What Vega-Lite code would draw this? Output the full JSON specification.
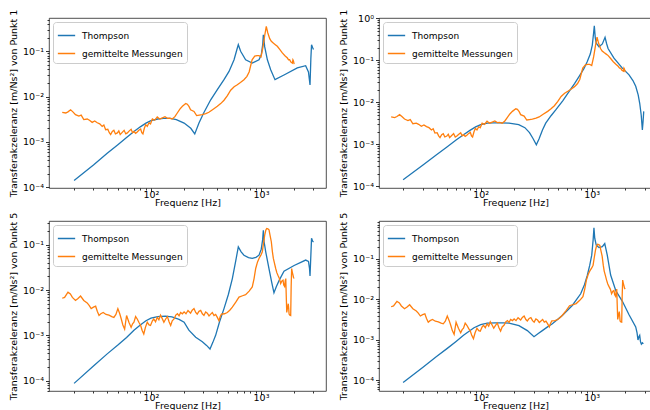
{
  "$schema": "https://vega.github.io/schema/vega-lite/v6.json",
  "padding": {"left": 8, "top": 8, "right": 0, "bottom": 0},
  "bounds": "flush",
  "spacing": {"row": 33, "column": 53},
  "columns": 2,
  "resolve": {"scale": {"x": "independent", "y": "independent", "color": "independent"}, "legend": {"color": "independent"}},
  "config": {
    "font": "DejaVu Sans",
    "view": {"stroke": "#222", "strokeWidth": 0.8},
    "axis": {"domain": false, "grid": false, "tickColor": "#000", "tickWidth": 0.8, "labelColor": "#000", "titleColor": "#000", "labelFontSize": 9.5, "titleFontSize": 9.5, "titleFontWeight": "normal", "labelFont": "DejaVu Sans", "titleFont": "DejaVu Sans", "labelPadding": 2, "titlePadding": 4, "labelOverlap": false},
    "axisX": {"labelPadding": -2, "titlePadding": -2},
    "legend": {"orient": "top-left", "offset": 4, "padding": 4, "fillColor": "rgba(255,255,255,0.8)", "strokeColor": "#cccccc", "cornerRadius": 3, "symbolType": "stroke", "symbolSize": 300, "symbolStrokeWidth": 1.5, "labelFontSize": 9, "labelFont": "DejaVu Sans", "labelColor": "#000", "labelOffset": 6, "rowPadding": 3}
  },
  "datasets": {
    "m1": [{"f":15.6,"v":0.0045},{"f":16.8,"v":0.00435},{"f":17.6,"v":0.0046},{"f":18.6,"v":0.0051},{"f":19.5,"v":0.0046},{"f":20.6,"v":0.004},{"f":22.1,"v":0.0037},{"f":23.2,"v":0.0039},{"f":24.5,"v":0.0031},{"f":26.3,"v":0.0032},{"f":27.6,"v":0.003},{"f":29.2,"v":0.0027},{"f":30.8,"v":0.0029},{"f":32.5,"v":0.00265},{"f":34.2,"v":0.0025},{"f":36,"v":0.0022},{"f":37.3,"v":0.00235},{"f":38.7,"v":0.00186},{"f":40.5,"v":0.0019},{"f":41.8,"v":0.0016},{"f":43,"v":0.00145},{"f":44.5,"v":0.0017},{"f":46,"v":0.0018},{"f":47.5,"v":0.0015},{"f":49.5,"v":0.00158},{"f":51,"v":0.00175},{"f":52.5,"v":0.00145},{"f":54.5,"v":0.0016},{"f":57,"v":0.0018},{"f":59,"v":0.0015},{"f":61,"v":0.00158},{"f":63.5,"v":0.00175},{"f":66,"v":0.0019},{"f":68,"v":0.0016},{"f":70,"v":0.0017},{"f":72.5,"v":0.00155},{"f":75,"v":0.00165},{"f":77.5,"v":0.0018},{"f":80.6,"v":0.00193},{"f":82.5,"v":0.0016},{"f":84.5,"v":0.0015},{"f":87,"v":0.002},{"f":89.5,"v":0.0024},{"f":92.5,"v":0.0022},{"f":96,"v":0.00265},{"f":99,"v":0.0025},{"f":103,"v":0.0032},{"f":108,"v":0.003},{"f":114,"v":0.00355},{"f":120,"v":0.0032},{"f":127,"v":0.0034},{"f":134,"v":0.0036},{"f":141,"v":0.0033},{"f":148,"v":0.00335},{"f":156,"v":0.0032},{"f":165,"v":0.0036},{"f":174,"v":0.0044},{"f":183,"v":0.0053},{"f":193,"v":0.0061},{"f":207,"v":0.007},{"f":214,"v":0.0068},{"f":222,"v":0.006},{"f":229,"v":0.0051},{"f":246,"v":0.0047},{"f":260,"v":0.0038},{"f":275,"v":0.0039},{"f":292,"v":0.004},{"f":315,"v":0.0042},{"f":336,"v":0.0045},{"f":365,"v":0.0052},{"f":401,"v":0.0061},{"f":430,"v":0.007},{"f":461,"v":0.0083},{"f":495,"v":0.0105},{"f":530,"v":0.0138},{"f":570,"v":0.0165},{"f":609,"v":0.0183},{"f":650,"v":0.0205},{"f":700,"v":0.0236},{"f":745,"v":0.028},{"f":780,"v":0.035},{"f":830,"v":0.065},{"f":877,"v":0.078},{"f":920,"v":0.08},{"f":959,"v":0.08},{"f":1000,"v":0.075},{"f":1040,"v":0.12},{"f":1080,"v":0.22},{"f":1117,"v":0.356},{"f":1150,"v":0.26},{"f":1200,"v":0.19},{"f":1241,"v":0.166},{"f":1300,"v":0.15},{"f":1350,"v":0.14},{"f":1407,"v":0.129},{"f":1480,"v":0.11},{"f":1563,"v":0.092},{"f":1650,"v":0.08},{"f":1738,"v":0.071},{"f":1780,"v":0.065},{"f":1820,"v":0.065},{"f":1870,"v":0.058},{"f":1928,"v":0.055},{"f":1950,"v":0.065},{"f":1970,"v":0.062},{"f":2000,"v":0.052}],
    "m5": [{"f":15.6,"v":0.0066},{"f":16.4,"v":0.0069},{"f":17.6,"v":0.009},{"f":18.5,"v":0.0082},{"f":19.3,"v":0.0069},{"f":20.6,"v":0.0059},{"f":21.7,"v":0.0065},{"f":22.9,"v":0.0074},{"f":24.5,"v":0.0059},{"f":26.3,"v":0.0052},{"f":27.4,"v":0.0046},{"f":28.6,"v":0.0039},{"f":30,"v":0.0042},{"f":31.4,"v":0.0044},{"f":32.5,"v":0.0034},{"f":33.7,"v":0.00275},{"f":35,"v":0.003},{"f":36.8,"v":0.0032},{"f":39,"v":0.0029},{"f":41.5,"v":0.0028},{"f":44,"v":0.0026},{"f":46,"v":0.0025},{"f":48,"v":0.0029},{"f":50,"v":0.0039},{"f":52,"v":0.003},{"f":53.7,"v":0.0023},{"f":55.5,"v":0.0017},{"f":57.6,"v":0.00138},{"f":60,"v":0.00275},{"f":63,"v":0.00195},{"f":66,"v":0.0015},{"f":68,"v":0.0018},{"f":70,"v":0.00195},{"f":72.5,"v":0.0026},{"f":75,"v":0.0023},{"f":78,"v":0.0019},{"f":80.6,"v":0.00165},{"f":83,"v":0.0013},{"f":86,"v":0.00107},{"f":89,"v":0.0015},{"f":92.5,"v":0.00195},{"f":96,"v":0.0017},{"f":99,"v":0.00165},{"f":103,"v":0.0021},{"f":106,"v":0.0023},{"f":110,"v":0.002},{"f":114,"v":0.0025},{"f":118,"v":0.0022},{"f":122,"v":0.0028},{"f":126,"v":0.0024},{"f":131,"v":0.00195},{"f":136,"v":0.0023},{"f":141,"v":0.0026},{"f":146,"v":0.002},{"f":151,"v":0.00165},{"f":156,"v":0.0021},{"f":162,"v":0.0023},{"f":168,"v":0.0028},{"f":174,"v":0.003},{"f":180,"v":0.0027},{"f":186,"v":0.0032},{"f":193,"v":0.003},{"f":200,"v":0.0033},{"f":208,"v":0.003},{"f":217,"v":0.00355},{"f":229,"v":0.0031},{"f":237,"v":0.0036},{"f":246,"v":0.0039},{"f":255,"v":0.0032},{"f":263,"v":0.00295},{"f":273,"v":0.0034},{"f":283,"v":0.00355},{"f":293,"v":0.003},{"f":303,"v":0.00275},{"f":314,"v":0.0033},{"f":325,"v":0.0031},{"f":337,"v":0.0027},{"f":349,"v":0.00295},{"f":361,"v":0.0032},{"f":374,"v":0.00275},{"f":387,"v":0.0029},{"f":401,"v":0.0025},{"f":415,"v":0.0021},{"f":426,"v":0.0026},{"f":437,"v":0.00295},{"f":465,"v":0.003},{"f":494,"v":0.0032},{"f":520,"v":0.0036},{"f":549,"v":0.0042},{"f":590,"v":0.0054},{"f":631,"v":0.007},{"f":680,"v":0.0075},{"f":725,"v":0.0079},{"f":780,"v":0.0095},{"f":833,"v":0.0117},{"f":865,"v":0.018},{"f":895,"v":0.03},{"f":930,"v":0.042},{"f":959,"v":0.05},{"f":1000,"v":0.06},{"f":1028,"v":0.07},{"f":1055,"v":0.11},{"f":1081,"v":0.164},{"f":1105,"v":0.21},{"f":1127,"v":0.23},{"f":1155,"v":0.225},{"f":1183,"v":0.215},{"f":1210,"v":0.16},{"f":1241,"v":0.117},{"f":1270,"v":0.07},{"f":1295,"v":0.05},{"f":1330,"v":0.038},{"f":1360,"v":0.03},{"f":1395,"v":0.024},{"f":1428,"v":0.021},{"f":1470,"v":0.018},{"f":1510,"v":0.0139},{"f":1550,"v":0.016},{"f":1585,"v":0.0166},{"f":1610,"v":0.013},{"f":1640,"v":0.012},{"f":1660,"v":0.016},{"f":1680,"v":0.018},{"f":1695,"v":0.008},{"f":1714,"v":0.0032},{"f":1740,"v":0.004},{"f":1770,"v":0.005},{"f":1785,"v":0.004},{"f":1800,"v":0.00295},{"f":1830,"v":0.0028},{"f":1862,"v":0.00275},{"f":1880,"v":0.012},{"f":1900,"v":0.03},{"f":1925,"v":0.025},{"f":1950,"v":0.022},{"f":1975,"v":0.019},{"f":2000,"v":0.018}],
    "t1l": [{"f":20,"v":0.00014},{"f":30,"v":0.00031},{"f":40,"v":0.00056},{"f":50,"v":0.00087},{"f":60,"v":0.00125},{"f":70,"v":0.0017},{"f":80,"v":0.00215},{"f":90,"v":0.0026},{"f":100,"v":0.00295},{"f":115,"v":0.0032},{"f":130,"v":0.0033},{"f":150,"v":0.0033},{"f":170,"v":0.0031},{"f":200,"v":0.0026},{"f":230,"v":0.002},{"f":250,"v":0.0015},{"f":273,"v":0.0026},{"f":302,"v":0.0044},{"f":349,"v":0.0085},{"f":401,"v":0.0142},{"f":461,"v":0.0236},{"f":512,"v":0.036},{"f":569,"v":0.065},{"f":603,"v":0.108},{"f":622,"v":0.14},{"f":653,"v":0.1},{"f":725,"v":0.065},{"f":833,"v":0.055},{"f":959,"v":0.065},{"f":1006,"v":0.084},{"f":1036,"v":0.14},{"f":1050,"v":0.23},{"f":1081,"v":0.125},{"f":1143,"v":0.065},{"f":1225,"v":0.039},{"f":1340,"v":0.0236},{"f":1618,"v":0.03},{"f":2138,"v":0.043},{"f":2546,"v":0.048},{"f":2700,"v":0.035},{"f":2790,"v":0.018},{"f":2840,"v":0.07},{"f":2880,"v":0.14},{"f":2950,"v":0.12},{"f":3000,"v":0.11}],
    "t1r": [{"f":20,"v":0.000144},{"f":30,"v":0.00032},{"f":40,"v":0.00057},{"f":50,"v":0.00088},{"f":60,"v":0.00127},{"f":70,"v":0.0017},{"f":80,"v":0.00215},{"f":90,"v":0.0026},{"f":100,"v":0.00295},{"f":115,"v":0.0032},{"f":130,"v":0.00325},{"f":150,"v":0.00325},{"f":180,"v":0.0032},{"f":220,"v":0.00295},{"f":250,"v":0.0025},{"f":275,"v":0.0019},{"f":295,"v":0.0014},{"f":317,"v":0.00098},{"f":335,"v":0.00135},{"f":360,"v":0.0022},{"f":385,"v":0.0032},{"f":430,"v":0.0048},{"f":474,"v":0.0066},{"f":550,"v":0.011},{"f":624,"v":0.018},{"f":700,"v":0.028},{"f":768,"v":0.041},{"f":850,"v":0.063},{"f":912,"v":0.093},{"f":970,"v":0.14},{"f":1012,"v":0.23},{"f":1040,"v":0.45},{"f":1055,"v":0.66},{"f":1075,"v":0.35},{"f":1098,"v":0.255},{"f":1163,"v":0.21},{"f":1246,"v":0.245},{"f":1318,"v":0.35},{"f":1360,"v":0.25},{"f":1403,"v":0.19},{"f":1586,"v":0.112},{"f":1888,"v":0.065},{"f":2168,"v":0.045},{"f":2350,"v":0.033},{"f":2490,"v":0.024},{"f":2620,"v":0.015},{"f":2705,"v":0.0095},{"f":2790,"v":0.005},{"f":2858,"v":0.0022},{"f":2900,"v":0.0035},{"f":2940,"v":0.0061}],
    "t5l": [{"f":20,"v":0.000087},{"f":30,"v":0.00021},{"f":40,"v":0.00039},{"f":50,"v":0.00061},{"f":60,"v":0.0009},{"f":70,"v":0.0013},{"f":80,"v":0.0017},{"f":90,"v":0.0021},{"f":100,"v":0.0024},{"f":115,"v":0.0026},{"f":135,"v":0.00265},{"f":155,"v":0.00255},{"f":180,"v":0.00225},{"f":200,"v":0.00195},{"f":221,"v":0.0013},{"f":255,"v":0.00091},{"f":293,"v":0.00072},{"f":320,"v":0.0006},{"f":344,"v":0.0005},{"f":365,"v":0.0007},{"f":387,"v":0.001},{"f":420,"v":0.002},{"f":461,"v":0.0039},{"f":505,"v":0.008},{"f":549,"v":0.018},{"f":590,"v":0.045},{"f":622,"v":0.09},{"f":660,"v":0.07},{"f":700,"v":0.059},{"f":770,"v":0.052},{"f":833,"v":0.05},{"f":900,"v":0.053},{"f":959,"v":0.059},{"f":1005,"v":0.08},{"f":1035,"v":0.13},{"f":1050,"v":0.21},{"f":1065,"v":0.12},{"f":1104,"v":0.07},{"f":1189,"v":0.0275},{"f":1250,"v":0.015},{"f":1312,"v":0.0087},{"f":1380,"v":0.012},{"f":1466,"v":0.0166},{"f":1618,"v":0.026},{"f":2000,"v":0.035},{"f":2300,"v":0.041},{"f":2546,"v":0.046},{"f":2700,"v":0.043},{"f":2760,"v":0.03},{"f":2790,"v":0.0205},{"f":2840,"v":0.06},{"f":2880,"v":0.139},{"f":2950,"v":0.12},{"f":3000,"v":0.115}],
    "t5r": [{"f":20,"v":0.000089},{"f":30,"v":0.00021},{"f":40,"v":0.00039},{"f":50,"v":0.00062},{"f":60,"v":0.00092},{"f":70,"v":0.0013},{"f":87,"v":0.002},{"f":100,"v":0.0024},{"f":115,"v":0.0026},{"f":135,"v":0.00265},{"f":160,"v":0.00265},{"f":180,"v":0.0026},{"f":221,"v":0.00226},{"f":263,"v":0.0017},{"f":302,"v":0.0012},{"f":330,"v":0.00145},{"f":359,"v":0.0017},{"f":400,"v":0.0021},{"f":442,"v":0.0025},{"f":543,"v":0.004},{"f":668,"v":0.0071},{"f":795,"v":0.0138},{"f":860,"v":0.023},{"f":912,"v":0.039},{"f":960,"v":0.07},{"f":1000,"v":0.124},{"f":1030,"v":0.3},{"f":1047,"v":0.59},{"f":1065,"v":0.32},{"f":1098,"v":0.22},{"f":1163,"v":0.19},{"f":1246,"v":0.2},{"f":1310,"v":0.24},{"f":1380,"v":0.124},{"f":1480,"v":0.04},{"f":1645,"v":0.0166},{"f":1888,"v":0.009},{"f":2168,"v":0.0042},{"f":2490,"v":0.0021},{"f":2560,"v":0.0015},{"f":2610,"v":0.001},{"f":2660,"v":0.0012},{"f":2705,"v":0.0013},{"f":2750,"v":0.0009},{"f":2800,"v":0.00079},{"f":2860,"v":0.00085},{"f":2917,"v":0.0008}]
  },
  "concat": [
    {
      "width": 277, "height": 170,
      "encoding": {
        "x": {"field": "f", "type": "quantitative", "scale": {"type": "log", "domain": [11.83, 3898], "nice": false},
          "axis": {"title": "Frequenz [Hz]", "values": [20,30,40,50,60,70,80,90,100,200,300,400,500,600,700,800,900,1000,2000,3000],
            "labelExpr": "abs(log(datum.value)/LN10-round(log(datum.value)/LN10))<0.001 ? '10'+replace(replace(replace(replace(replace(replace(''+round(log(datum.value)/LN10),'-','⁻'),'0','⁰'),'1','¹'),'2','²'),'3','³'),'4','⁴') : ''",
            "tickSize": {"condition": {"test": "abs(log(datum.value)/LN10-round(log(datum.value)/LN10))<0.001", "value": 3.5}, "value": 2}}},
        "y": {"field": "v", "type": "quantitative", "scale": {"type": "log", "domain": [0.000096, 0.543], "nice": false},
          "axis": {"title": "Transferakzeleranz [m/Ns²] von Punkt 1", "values": [0.0001,0.0002,0.0003,0.0004,0.0005,0.0006,0.0007,0.0008,0.0009,0.001,0.002,0.003,0.004,0.005,0.006,0.007,0.008,0.009,0.01,0.02,0.03,0.04,0.05,0.06,0.07,0.08,0.09,0.1,0.2,0.3,0.4,0.5],
            "labelExpr": "abs(log(datum.value)/LN10-round(log(datum.value)/LN10))<0.001 ? '10'+replace(replace(replace(replace(replace(replace(''+round(log(datum.value)/LN10),'-','⁻'),'0','⁰'),'1','¹'),'2','²'),'3','³'),'4','⁴') : ''",
            "tickSize": {"condition": {"test": "abs(log(datum.value)/LN10-round(log(datum.value)/LN10))<0.001", "value": 3.5}, "value": 2}}}
      },
      "layer": [
        {"data": {"name": "t1l"}, "mark": {"type": "line", "strokeWidth": 1.3, "clip": true}, "encoding": {"color": {"datum": "Thompson", "type": "nominal", "scale": {"domain": ["Thompson", "gemittelte Messungen"], "range": ["#1f77b4", "#ff7f0e"]}, "legend": {"title": null}}}},
        {"data": {"name": "m1"}, "mark": {"type": "line", "strokeWidth": 1.3, "clip": true}, "encoding": {"color": {"datum": "gemittelte Messungen", "type": "nominal"}}}
      ]
    },
    {
      "width": 273, "height": 170,
      "encoding": {
        "x": {"field": "f", "type": "quantitative", "scale": {"type": "log", "domain": [12.13, 3490], "nice": false},
          "axis": {"title": "Frequenz [Hz]", "values": [20,30,40,50,60,70,80,90,100,200,300,400,500,600,700,800,900,1000,2000,3000],
            "labelExpr": "abs(log(datum.value)/LN10-round(log(datum.value)/LN10))<0.001 ? '10'+replace(replace(replace(replace(replace(replace(''+round(log(datum.value)/LN10),'-','⁻'),'0','⁰'),'1','¹'),'2','²'),'3','³'),'4','⁴') : ''",
            "tickSize": {"condition": {"test": "abs(log(datum.value)/LN10-round(log(datum.value)/LN10))<0.001", "value": 3.5}, "value": 2}}},
        "y": {"field": "v", "type": "quantitative", "scale": {"type": "log", "domain": [0.000092, 1.01], "nice": false},
          "axis": {"title": "Transferakzeleranz [m/Ns²] von Punkt 1", "values": [0.0001,0.0002,0.0003,0.0004,0.0005,0.0006,0.0007,0.0008,0.0009,0.001,0.002,0.003,0.004,0.005,0.006,0.007,0.008,0.009,0.01,0.02,0.03,0.04,0.05,0.06,0.07,0.08,0.09,0.1,0.2,0.3,0.4,0.5,0.6,0.7,0.8,0.9,1],
            "labelExpr": "abs(log(datum.value)/LN10-round(log(datum.value)/LN10))<0.001 ? '10'+replace(replace(replace(replace(replace(replace(''+round(log(datum.value)/LN10),'-','⁻'),'0','⁰'),'1','¹'),'2','²'),'3','³'),'4','⁴') : ''",
            "tickSize": {"condition": {"test": "abs(log(datum.value)/LN10-round(log(datum.value)/LN10))<0.001", "value": 3.5}, "value": 2}}}
      },
      "layer": [
        {"data": {"name": "t1r"}, "mark": {"type": "line", "strokeWidth": 1.3, "clip": true}, "encoding": {"color": {"datum": "Thompson", "type": "nominal", "scale": {"domain": ["Thompson", "gemittelte Messungen"], "range": ["#1f77b4", "#ff7f0e"]}, "legend": {"title": null}}}},
        {"data": {"name": "m1"}, "mark": {"type": "line", "strokeWidth": 1.3, "clip": true}, "encoding": {"color": {"datum": "gemittelte Messungen", "type": "nominal"}}}
      ]
    },
    {
      "width": 277, "height": 170,
      "encoding": {
        "x": {"field": "f", "type": "quantitative", "scale": {"type": "log", "domain": [11.83, 3898], "nice": false},
          "axis": {"title": "Frequenz [Hz]", "values": [20,30,40,50,60,70,80,90,100,200,300,400,500,600,700,800,900,1000,2000,3000],
            "labelExpr": "abs(log(datum.value)/LN10-round(log(datum.value)/LN10))<0.001 ? '10'+replace(replace(replace(replace(replace(replace(''+round(log(datum.value)/LN10),'-','⁻'),'0','⁰'),'1','¹'),'2','²'),'3','³'),'4','⁴') : ''",
            "tickSize": {"condition": {"test": "abs(log(datum.value)/LN10-round(log(datum.value)/LN10))<0.001", "value": 3.5}, "value": 2}}},
        "y": {"field": "v", "type": "quantitative", "scale": {"type": "log", "domain": [0.000059, 0.336], "nice": false},
          "axis": {"title": "Transferakzeleranz [m/Ns²] von Punkt 5", "values": [0.00006,0.00007,0.00008,0.00009,0.0001,0.0002,0.0003,0.0004,0.0005,0.0006,0.0007,0.0008,0.0009,0.001,0.002,0.003,0.004,0.005,0.006,0.007,0.008,0.009,0.01,0.02,0.03,0.04,0.05,0.06,0.07,0.08,0.09,0.1,0.2,0.3],
            "labelExpr": "abs(log(datum.value)/LN10-round(log(datum.value)/LN10))<0.001 ? '10'+replace(replace(replace(replace(replace(replace(''+round(log(datum.value)/LN10),'-','⁻'),'0','⁰'),'1','¹'),'2','²'),'3','³'),'4','⁴') : ''",
            "tickSize": {"condition": {"test": "abs(log(datum.value)/LN10-round(log(datum.value)/LN10))<0.001", "value": 3.5}, "value": 2}}}
      },
      "layer": [
        {"data": {"name": "t5l"}, "mark": {"type": "line", "strokeWidth": 1.3, "clip": true}, "encoding": {"color": {"datum": "Thompson", "type": "nominal", "scale": {"domain": ["Thompson", "gemittelte Messungen"], "range": ["#1f77b4", "#ff7f0e"]}, "legend": {"title": null}}}},
        {"data": {"name": "m5"}, "mark": {"type": "line", "strokeWidth": 1.3, "clip": true}, "encoding": {"color": {"datum": "gemittelte Messungen", "type": "nominal"}}}
      ]
    },
    {
      "width": 273, "height": 170,
      "encoding": {
        "x": {"field": "f", "type": "quantitative", "scale": {"type": "log", "domain": [12.13, 3490], "nice": false},
          "axis": {"title": "Frequenz [Hz]", "values": [20,30,40,50,60,70,80,90,100,200,300,400,500,600,700,800,900,1000,2000,3000],
            "labelExpr": "abs(log(datum.value)/LN10-round(log(datum.value)/LN10))<0.001 ? '10'+replace(replace(replace(replace(replace(replace(''+round(log(datum.value)/LN10),'-','⁻'),'0','⁰'),'1','¹'),'2','²'),'3','³'),'4','⁴') : ''",
            "tickSize": {"condition": {"test": "abs(log(datum.value)/LN10-round(log(datum.value)/LN10))<0.001", "value": 3.5}, "value": 2}}},
        "y": {"field": "v", "type": "quantitative", "scale": {"type": "log", "domain": [0.000055, 0.863], "nice": false},
          "axis": {"title": "Transferakzeleranz [m/Ns²] von Punkt 5", "values": [0.00006,0.00007,0.00008,0.00009,0.0001,0.0002,0.0003,0.0004,0.0005,0.0006,0.0007,0.0008,0.0009,0.001,0.002,0.003,0.004,0.005,0.006,0.007,0.008,0.009,0.01,0.02,0.03,0.04,0.05,0.06,0.07,0.08,0.09,0.1,0.2,0.3,0.4,0.5,0.6,0.7,0.8],
            "labelExpr": "abs(log(datum.value)/LN10-round(log(datum.value)/LN10))<0.001 ? '10'+replace(replace(replace(replace(replace(replace(''+round(log(datum.value)/LN10),'-','⁻'),'0','⁰'),'1','¹'),'2','²'),'3','³'),'4','⁴') : ''",
            "tickSize": {"condition": {"test": "abs(log(datum.value)/LN10-round(log(datum.value)/LN10))<0.001", "value": 3.5}, "value": 2}}}
      },
      "layer": [
        {"data": {"name": "t5r"}, "mark": {"type": "line", "strokeWidth": 1.3, "clip": true}, "encoding": {"color": {"datum": "Thompson", "type": "nominal", "scale": {"domain": ["Thompson", "gemittelte Messungen"], "range": ["#1f77b4", "#ff7f0e"]}, "legend": {"title": null}}}},
        {"data": {"name": "m5"}, "mark": {"type": "line", "strokeWidth": 1.3, "clip": true}, "encoding": {"color": {"datum": "gemittelte Messungen", "type": "nominal"}}}
      ]
    }
  ]
}
